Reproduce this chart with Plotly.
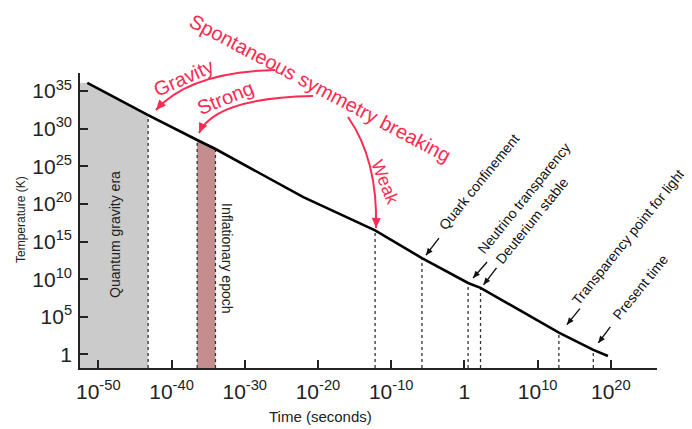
import numpy as np
import plotly.graph_objects as go

# ---------------- data (log10 values) ----------------
line_log_t = [-51.5, -43.2, -36.5, -34.0, -22.0, -12.2, -5.8, 0.5, 2.2, 12.9, 17.6, 19.6]
line_log_T = [36.1, 31.8, 28.5, 27.3, 20.9, 16.5, 12.8, 9.5, 8.85, 2.9, 0.6, -0.2]

quantum_gravity_end = -43.2
inflation_start = -36.5
inflation_end = -34.0
weak_breaking = -12.2

event_names = ["Quark confinement", "Neutrino transparency", "Deuterium stable",
               "Transparency point for light", "Present time"]
event_log_t = [-5.8, 0.5, 2.2, 12.9, 17.6]

x_range = [-52.5, 26.3]
y_range = [-1.8, 37.4]
x_tick_exps = [-50, -40, -30, -20, -10, 0, 10, 20]
y_tick_exps = [0, 5, 10, 15, 20, 25, 30, 35]

# ---------------- styling ----------------
OFF = 8                      # page body margin of the browser
W, H = 692 - OFF, 429 - OFF
ML, MT = 80 - OFF, 73 - OFF  # plot area left / top in the page: 80, 73
MR, MB = 35, 61              # plot area right / bottom in the page: 657, 368
PW, PH = W - ML - MR, H - MT - MB
RED = "#fb2b52"
SANS = "Liberation Sans, Arial, Helvetica, sans-serif"


def P(px, py):
    """page pixel position -> paper coordinates"""
    px, py = px - OFF, py - OFF
    return (px - ML) / PW, (MT + PH - py) / PH


def to_px(lt, lT):
    """data (log10) -> page pixel position"""
    px = ML + (lt - x_range[0]) / (x_range[1] - x_range[0]) * PW
    py = MT + PH - (lT - y_range[0]) / (y_range[1] - y_range[0]) * PH
    return px + OFF, py + OFF


def T_at(lt):
    return float(np.interp(lt, line_log_t, line_log_T))


def pw(v):
    return [10.0 ** a for a in v]


def tick_text(e):
    if e == 0:
        return "1"
    return "10<sup>%d</sup>" % e


fig = go.Figure()

# quantum gravity era (grey region under the line)
qg_pts = [t for t in line_log_t if t < quantum_gravity_end]
qg_t = [x_range[0], x_range[0]] + qg_pts + [quantum_gravity_end, quantum_gravity_end]
qg_T = [y_range[0], line_log_T[0]] + [T_at(t) for t in qg_pts] + [T_at(quantum_gravity_end), y_range[0]]
fig.add_trace(go.Scatter(x=pw(qg_t), y=pw(qg_T), fill="toself", fillcolor="#cbcbcb",
                         line=dict(width=0), mode="lines", hoverinfo="skip", showlegend=False))

# inflationary epoch (brown region under the line)
inf_t = [inflation_start, inflation_start, inflation_end, inflation_end]
inf_T = [y_range[0], T_at(inflation_start), T_at(inflation_end), y_range[0]]
fig.add_trace(go.Scatter(x=pw(inf_t), y=pw(inf_T), fill="toself", fillcolor="#c48e8e",
                         line=dict(width=0), mode="lines", hoverinfo="skip", showlegend=False))

# dotted vertical markers
for lt in [quantum_gravity_end, inflation_start, inflation_end, weak_breaking] + event_log_t:
    fig.add_trace(go.Scatter(x=pw([lt, lt]), y=pw([y_range[0], T_at(lt)]), mode="lines",
                             line=dict(color="#333333", width=1.3, dash="dot"),
                             hoverinfo="skip", showlegend=False))

# temperature line
fig.add_trace(go.Scatter(x=pw(line_log_t), y=pw(line_log_T), mode="lines",
                         line=dict(color="black", width=2.6), showlegend=False))

annotations = []
shapes = []


def arrow_head(head, direction, color, L=9.0, w=4.0):
    d = np.array(direction, float)
    d = d / np.linalg.norm(d)
    h = np.array(head, float)
    base = h - d * L
    n = np.array([-d[1], d[0]])
    pts = [h, base + n * w, base - n * w]
    pp = [P(*p) for p in pts]
    path = "M %f,%f L %f,%f L %f,%f Z" % (pp[0][0], pp[0][1], pp[1][0], pp[1][1], pp[2][0], pp[2][1])
    shapes.append(dict(type="path", xref="paper", yref="paper", path=path,
                       fillcolor=color, line=dict(width=0)))


def label(px, py, text, angle, size, color, family=SANS):
    x, y = P(px, py)
    annotations.append(dict(x=x, y=y, xref="paper", yref="paper", text=text, showarrow=False,
                            xanchor="center", yanchor="middle", textangle=angle,
                            font=dict(family=family, size=size, color=color)))


# axis titles
label(320, 416, "Time (seconds)", 0, 15, "#222")
label(21, 220, "Temperature (K)", -90, 12, "#222")

# era labels
label(115, 235, "Quantum gravity era", -90, 14, "#222")
label(227, 258, "Inflationary epoch", 90, 14, "#222")

# event labels with arrows
label_shift = [(57, 76), (56, 85), (51, 67), (69, 96), (47, 63)]
head_shift = [(4, 3), (5, 5), (3, 3), (8, 8), (5, 7)]
tail = [(13, -17), (14, -16), (13, -17), (13, -16), (12, -16)]
for name, lt, ls, hs, tl in zip(event_names, event_log_t, label_shift, head_shift, tail):
    ex, ey = to_px(lt, T_at(lt))
    label(ex + ls[0], ey - ls[1], name, -51, 14, "#111")
    head = (ex + hs[0], ey - hs[1])
    tail_pt = (head[0] + tl[0], head[1] + tl[1])
    a, b = P(*tail_pt), P(*head)
    shapes.append(dict(type="line", xref="paper", yref="paper", x0=a[0], y0=a[1], x1=b[0], y1=b[1],
                       line=dict(color="#111", width=1.4)))
    arrow_head(head, (-tl[0], -tl[1]), "#111", L=7, w=3)

# red labels
label(320, 88, "Spontaneous symmetry breaking", 28, 20, RED)
label(183, 78, "Gravity", -24, 20, RED)
label(225, 98, "Strong", -22, 20, RED)
label(385, 182, "Weak", 68, 18, RED)

# red curved arrows (quadratic curves) + heads
for p0, c, p1 in [((275, 70), (190, 72), (156, 110)),
                  ((313, 96), (215, 98), (199, 133)),
                  ((348, 117), (378, 160), (376, 228))]:
    a, b, e = P(*p0), P(*c), P(*p1)
    shapes.append(dict(type="path", xref="paper", yref="paper",
                       path=f"M {a[0]},{a[1]} Q {b[0]},{b[1]} {e[0]},{e[1]}",
                       line=dict(color=RED, width=2)))
    arrow_head(p1, (p1[0] - c[0], p1[1] - c[1]), RED, L=10, w=4.5)

axis_common = dict(type="log", showgrid=False, zeroline=False, showline=True, linecolor="#222",
                   linewidth=1.5, ticks="inside", ticklen=8, tickwidth=1.5, tickcolor="#222",
                   automargin=False, tickmode="array",
                   tickfont=dict(family=SANS, size=21, color="#222"))

fig.update_layout(
    width=W, height=H,
    margin=dict(l=ML, r=MR, t=MT, b=MB),
    paper_bgcolor="white", plot_bgcolor="white",
    xaxis=dict(range=x_range, tickvals=pw(x_tick_exps), ticktext=[tick_text(e) for e in x_tick_exps],
               ticklabelstandoff=4, **axis_common),
    yaxis=dict(range=y_range, tickvals=pw(y_tick_exps), ticktext=[tick_text(e) for e in y_tick_exps],
               ticklabelstandoff=2, **axis_common),
    annotations=annotations, shapes=shapes,
    showlegend=False,
)

fig.write_html("out.html")
